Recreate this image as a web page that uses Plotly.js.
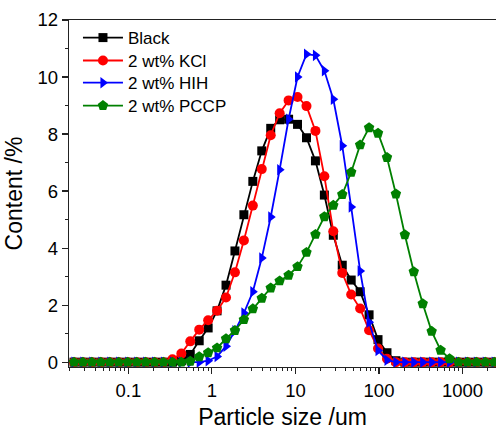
<!DOCTYPE html>
<html>
<head>
<meta charset="utf-8">
<script src="https://cdn.plot.ly/plotly-3.0.1.min.js"></script>
<style>html,body{margin:0;padding:0;background:#fff;}#chart{width:496px;height:430px;}</style>
</head>
<body>
<div id="chart"></div>
<script>
const sizeUm = [0.0224,0.0286,0.0366,0.0469,0.0600,0.0767,0.0982,0.126,0.161,0.206,0.263,0.337,0.431,0.551,0.705,0.902,1.153,1.476,1.888,2.415,3.090,3.954,5.058,6.471,8.279,10.59,13.55,17.34,22.18,28.38,36.31,46.45,59.43,76.03,97.27,124.5,159.2,203.7,260.6,333.4,426.6,545.8,698.2,893.3,1143,1462,1871,2393];

const black = [0,0,0,0,0,0,0,0,0,0,0,0,0.05,0.27,0.75,1.2,1.8,2.7,3.9,5.17,6.34,7.41,8.2,8.5,8.52,8.34,7.87,7.06,5.86,4.45,3.4,2.88,2.47,1.66,0.79,0.33,0.05,0,0,0,0,0,0,0,0,0,0,0];
const kcl = [0,0,0,0,0,0,0,0,0,0,0,0.1,0.30,0.73,1.14,1.47,1.8,2.27,3.15,4.27,5.49,6.77,7.96,8.73,9.18,9.3,8.98,8.11,6.52,4.59,3.13,2.37,1.88,1.12,0.48,0.12,0,0,0,0,0,0,0,0,0,0,0,0];
const hih = [0,0,0,0,0,0,0,0,0,0,0,0,0,0,0,0.05,0.2,0.56,1.1,1.72,2.47,3.65,5.09,6.75,8.52,10.0,10.8,10.76,10.22,9.22,7.59,5.44,3.2,1.4,0.41,0.07,0,0,0,0,0,0,0,0,0,0,0,0];
const pccp = [0,0,0,0,0,0,0,0,0,0,0,0,0,0.03,0.19,0.33,0.5,0.82,1.11,1.49,1.87,2.24,2.6,2.85,3.05,3.35,3.85,4.48,5.1,5.5,5.88,6.66,7.62,8.22,8.03,7.18,5.9,4.47,3.17,2.05,1.08,0.42,0.12,0,0,0,0,0];

const seriesNames = ['Black','2 wt% KCl','2 wt% HIH','2 wt% PCCP'];
const xTickVals = [0.1,1,10,100,1000];
const xTickText = ['0.1','1','10','100','1000'];
const yTickVals = [0,2,4,6,8,10,12];

const minorX = [];
[0.01,0.1,1,10,100,1000].forEach(d => { for (let m = 2; m <= 9; m++) minorX.push(+(d*m).toPrecision(3)); });

const FONT = 'Liberation Sans, Arial, sans-serif';
function tr(y, name, color, symbol, size, leg) {
  return {x: sizeUm, y: y, name: name, type: 'scatter', mode: 'lines+markers', legend: leg,
    line: {color: color, width: 1.8},
    marker: {color: color, symbol: symbol, size: size, line: {width: 0}}};
}
const data = [
  tr(black, seriesNames[0], '#000000', 'square', 9, 'legend'),
  tr(kcl, seriesNames[1], '#ff0000', 'circle', 10, 'legend2'),
  tr(hih, seriesNames[2], '#0000ff', 'triangle-right', 10, 'legend3'),
  tr(pccp, seriesNames[3], '#008000', 'pentagon', 11, 'legend4')
];
function leg(y) {
  return {x: 0.021, y: y, xanchor: 'left', yanchor: 'middle', bgcolor: 'rgba(0,0,0,0)',
    font: {family: FONT, size: 17, color: '#000'}, itemwidth: 40};
}
const layout = {
  width: 496, height: 430,
  margin: {l: 69, r: 0, t: 20, b: 63},
  paper_bgcolor: '#fff', plot_bgcolor: '#fff',
  font: {family: FONT, color: '#000', size: 18},
  showlegend: true,
  legend: leg(0.948), legend2: leg(0.882), legend3: leg(0.818), legend4: leg(0.752),
  xaxis: {type: 'log', range: [-1.71, 3.40], showline: true, linecolor: '#222', linewidth: 1.3,
    mirror: true, ticks: 'outside', ticklen: 6, tickwidth: 1.2, tickcolor: '#222',
    tickmode: 'array', tickvals: xTickVals, ticktext: xTickText,
    tickfont: {family: FONT, size: 18.5, color: '#000'},
    minor: {tickmode: 'array', tickvals: minorX, ticks: 'outside', ticklen: 3, tickwidth: 1, tickcolor: '#222', showgrid: false},
    showgrid: false, zeroline: false,
    title: {text: 'Particle size /um', font: {family: FONT, size: 23, color: '#000'}, standoff: 16}},
  yaxis: {range: [-0.17, 12], showline: true, linecolor: '#222', linewidth: 1.3, mirror: false,
    ticks: 'outside', ticklen: 6, tickwidth: 1.2, tickcolor: '#222',
    tickmode: 'array', tickvals: yTickVals,
    tickfont: {family: FONT, size: 18.5, color: '#000'},
    minor: {dtick: 1, tick0: 0, ticks: 'outside', ticklen: 3, tickwidth: 1, tickcolor: '#222', showgrid: false},
    showgrid: false, zeroline: false,
    title: {text: 'Content /%', font: {family: FONT, size: 23, color: '#000'}, standoff: 8}}
};
Plotly.newPlot('chart', data, layout, {staticPlot: true, displayModeBar: false});
</script>
</body>
</html>
